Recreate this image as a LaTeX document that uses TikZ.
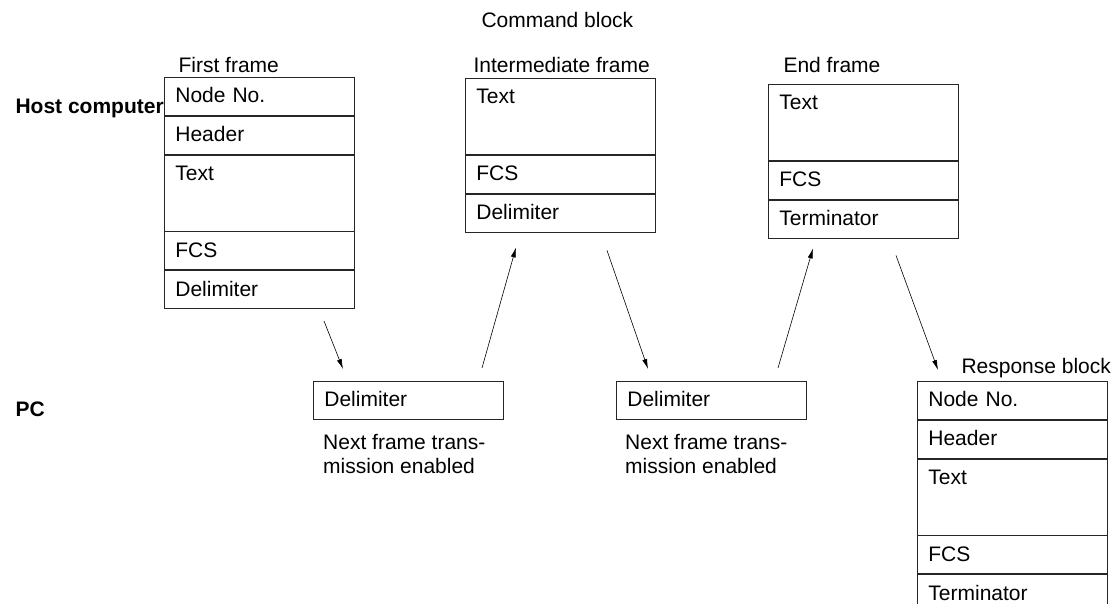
\documentclass[tikz,border=0pt]{standalone}
\usepackage{fontspec}
\setmainfont{Liberation Sans}
\usetikzlibrary{arrows.meta,positioning}

\begin{document}
\begin{tikzpicture}[x=1pt,y=-1pt,>={Latex[length=10pt,width=5pt]},every node/.style={font=\fontsize{21}{24}\selectfont},cell/.style={draw=black!85,line width=0.8pt,inner xsep=11pt,inner ysep=0pt,text width=168pt,align=left,minimum height=38pt,text height=13pt,text depth=0pt},tallcell/.style={cell,minimum height=76pt,text depth=38pt},arr/.style={->,line width=0.6pt},side/.style={anchor=base west,font=\fontsize{21}{24}\selectfont\bfseries}]
\clip (0,0) rectangle (1114,603);
\node[anchor=base west] (cmd) at (478,27) {Command block};
\node[side] (host) at (12,113) {Host computer};
\node[side] (pc) at (12,416) {PC};
% first frame
\node[anchor=base west] (firstlbl) at (175,72) {First frame};
\node[cell,anchor=north west] (F1) at (164,77) {Node No.};
\node[cell,below=0pt of F1] (F2) {Header};
\node[tallcell,below=0pt of F2] (F3) {Text};
\node[cell,below=0pt of F3] (F4) {FCS};
\node[cell,below=0pt of F4] (F5) {Delimiter};
% intermediate frame
\node[anchor=base west] (midlbl) at (470,72) {Intermediate frame};
\node[tallcell,anchor=north west] (I1) at (465,78) {Text};
\node[cell,below=0pt of I1] (I2) {FCS};
\node[cell,below=0pt of I2] (I3) {Delimiter};
% end frame
\node[anchor=base west] (endlbl) at (780,72) {End frame};
\node[tallcell,anchor=north west] (E1) at (768,84) {Text};
\node[cell,below=0pt of E1] (E2) {FCS};
\node[cell,below=0pt of E2] (E3) {Terminator};
% PC side
\node[cell,anchor=north west] (P1) at (313,381) {Delimiter};
\node[cell,anchor=north west] (P2) at (616,381) {Delimiter};
\node[anchor=north west,inner sep=0pt,align=left] (next1) at (323,434) {Next frame trans-\\mission enabled};
\node[anchor=north west,inner sep=0pt,align=left] (next2) at (625,434) {Next frame trans-\\mission enabled};
% response block
\node[anchor=base west] (resplbl) at (958,373) {Response block};
\node[cell,anchor=north west] (R1) at (917,381) {Node No.};
\node[cell,below=0pt of R1] (R2) {Header};
\node[tallcell,below=0pt of R2] (R3) {Text};
\node[cell,below=0pt of R3] (R4) {FCS};
\node[cell,below=0pt of R4] (R5) {Terminator};
\draw[arr] ([xshift=160pt,yshift=-12pt]F5.south west) -- ([xshift=30pt,yshift=12pt]P1.north west);
\draw[arr] ([xshift=169pt,yshift=13pt]P1.north west) -- ([xshift=51pt,yshift=-15pt]I3.south west);
\draw[arr] ([xshift=142pt,yshift=-18pt]I3.south west) -- ([xshift=32pt,yshift=12pt]P2.north west);
\draw[arr] ([xshift=162pt,yshift=13pt]P2.north west) -- ([xshift=45pt,yshift=-10pt]E3.south west);
\draw[arr] ([xshift=128pt,yshift=-17pt]E3.south west) -- ([xshift=21pt,yshift=11pt]R1.north west);
\end{tikzpicture}
\end{document}
